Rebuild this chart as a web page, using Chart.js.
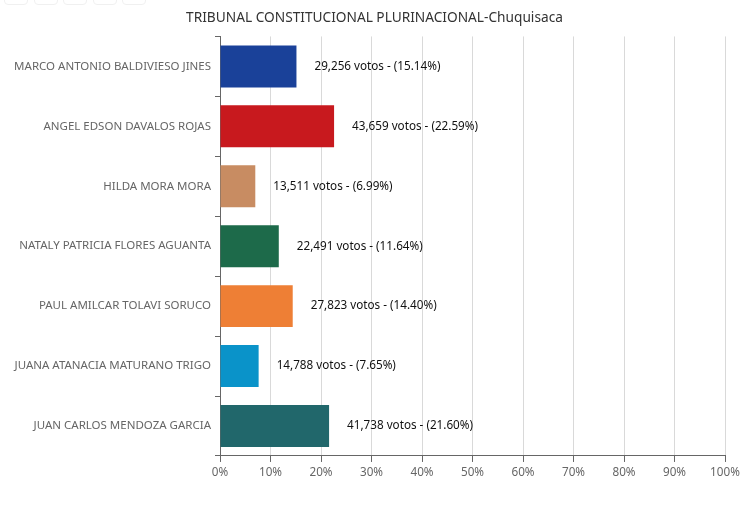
<!DOCTYPE html>
<html>
<head>
<meta charset="utf-8">
<script src="https://cdn.jsdelivr.net/npm/chart.js@4"></script>
<style>
html,body{margin:0;padding:0;background:#fff;}
#wrap{position:relative;width:749px;height:510px;}
.btn{position:absolute;top:-6px;width:22px;height:9px;border:1px solid #f0f0f0;border-radius:4px;background:#fff;}
</style>
</head>
<body>
<div id="wrap">
<div class="btn" style="left:4px"></div>
<div class="btn" style="left:34px"></div>
<div class="btn" style="left:63px"></div>
<div class="btn" style="left:93px"></div>
<div class="btn" style="left:122px"></div>
<canvas id="c" width="749" height="510"></canvas>
</div>
<script>
const categories = [
  "MARCO ANTONIO BALDIVIESO JINES",
  "ANGEL EDSON DAVALOS ROJAS",
  "HILDA MORA MORA",
  "NATALY PATRICIA FLORES AGUANTA",
  "PAUL AMILCAR TOLAVI SORUCO",
  "JUANA ATANACIA MATURANO TRIGO",
  "JUAN CARLOS MENDOZA GARCIA"
];
const votes = [29256, 43659, 13511, 22491, 27823, 14788, 41738];
const percents = [15.14, 22.59, 6.99, 11.64, 14.40, 7.65, 21.60];
const colors = ["#1a4199", "#c8191e", "#c88c62", "#1d6a4a", "#ee7f35", "#0a93c9", "#21676b"];
const xTicks = [0,10,20,30,40,50,60,70,80,90,100];
const titleText = "TRIBUNAL CONSTITUCIONAL PLURINACIONAL-Chuquisaca";

const FONT = "'Noto Sans', sans-serif";

const labelPlugin = {
  id: 'barLabels',
  afterDatasetsDraw(chart) {
    const ctx = chart.ctx;
    const meta = chart.getDatasetMeta(0);
    ctx.save();
    ctx.font = "11.7px " + FONT;
    ctx.fillStyle = "#111";
    ctx.textAlign = "left";
    ctx.textBaseline = "middle";
    meta.data.forEach((bar, i) => {
      const txt = votes[i].toLocaleString('en-US') + " votos - (" + percents[i].toFixed(2) + "%)";
      ctx.fillText(txt, bar.x + 18, bar.y);
    });
    ctx.restore();
  }
};

new Chart(document.getElementById('c'), {
  type: 'bar',
  data: {
    labels: categories,
    datasets: [{
      data: percents,
      backgroundColor: colors,
      borderWidth: 0,
      barPercentage: 0.7,
      categoryPercentage: 1.0
    }]
  },
  plugins: [labelPlugin],
  options: {
    indexAxis: 'y',
    responsive: false,
    animation: false,
    layout: { padding: { left: 0, right: 0, top: 0, bottom: 26 } },
    plugins: {
      legend: { display: false },
      tooltip: { enabled: false },
      title: {
        display: true,
        text: titleText,
        color: "#333",
        font: { family: FONT, size: 13.7, weight: 'normal' },
        padding: { top: 10, bottom: 10 }
      }
    },
    scales: {
      x: {
        min: 0, max: 100,
        afterBuildTicks(scale) { scale.ticks = xTicks.map(v => ({ value: v })); },
        afterFit(scale) { scale.paddingRight = 24; },
        ticks: {
          color: "#666",
          font: { family: FONT, size: 11.7 },
          padding: 4,
          callback: v => v + "%"
        },
        grid: { color: "#d9d9d9", tickColor: "#666", tickLength: 6, lineWidth: 1 },
        border: { color: "#666" }
      },
      y: {
        afterFit(scale) { scale.width = 220; },
        ticks: {
          color: "#666",
          font: { family: FONT, size: 11.5 },
          padding: 4
        },
        grid: { drawOnChartArea: false, tickColor: "#666", tickLength: 5, offset: true },
        border: { color: "#666" }
      }
    }
  }
});
</script>
</body>
</html>
